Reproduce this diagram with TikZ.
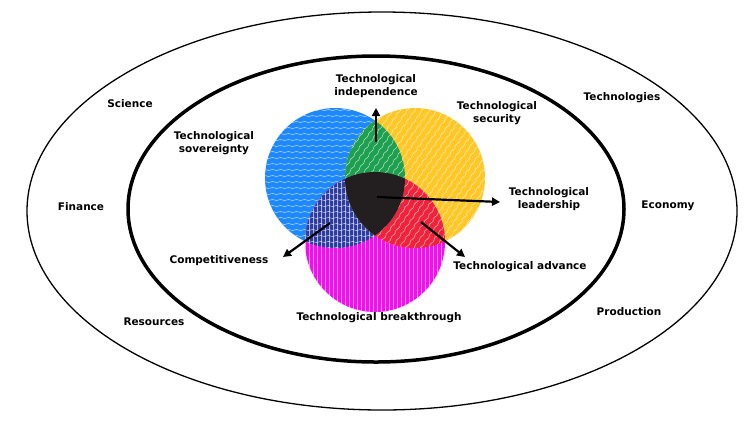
\documentclass[tikz,border=0pt]{standalone}
\usepackage{fontspec}
\setmainfont{DejaVu Sans}
\usetikzlibrary{arrows.meta,decorations.pathmorphing}
\definecolor{Bl}{RGB}{30, 136, 255}
\definecolor{Ye}{RGB}{255, 200, 40}
\definecolor{Ma}{RGB}{250, 10, 245}
\definecolor{Gr}{RGB}{30, 160, 80}
\definecolor{Db}{RGB}{45, 60, 160}
\definecolor{Re}{RGB}{240, 35, 60}
\definecolor{Bk}{RGB}{35, 31, 32}
\tikzset{
  lbl/.style={font=\bfseries\fontsize{10.5}{12.5}\selectfont, align=center, inner sep=1pt},
  wave/.style={white, opacity=0.7, line width=0.5pt, decorate,
    decoration={snake, amplitude=0.6pt, segment length=8pt}},
  hatch/.style={white, opacity=0.6, line width=0.5pt},
  arr/.style={-{Triangle[length=8pt,width=8pt]}, line width=2.2pt},
}

\begin{document}
\begin{tikzpicture}[x=1pt, y=-1pt]
   \useasboundingbox (0,0) rectangle (744,424);
   \draw[black, line width=1.3pt] (382,211) ellipse [x radius=355pt, y radius=199pt];
   \draw[black, line width=3.5pt] (376,209) ellipse [x radius=248pt, y radius=153pt];
   % base circles
   \fill[Bl] (335,178) circle [radius=70pt];
   \fill[Ye] (415,178) circle [radius=70pt];
   \fill[Ma] (375,242) circle [radius=70pt];
   \begin{scope}
   \clip (335,178) circle [radius=70pt];
   \fill[Db] (375,242) circle [radius=70pt];
   \end{scope}
   \begin{scope}
   \clip (375,242) circle [radius=70pt];
   \foreach \x in {305,309,...,445}
      \draw[hatch] (\x,170) -- (\x,314);
   \end{scope}
   \begin{scope}
   \clip (415,178) circle [radius=70pt];
   \fill[Re] (375,242) circle [radius=70pt];
   \end{scope}
   \begin{scope}
   \clip (335,178) circle [radius=70pt];
   \foreach \y in {110,116,...,248}
      \draw[wave] (262,\y) -- (410,\y);
   \end{scope}
   \begin{scope}
   \clip (335,178) circle [radius=70pt];
   \fill[Gr] (415,178) circle [radius=70pt];
   \end{scope}
   \begin{scope}
   \clip (415,178) circle [radius=70pt];
   \begin{scope}[rotate around={55:(415,178)}]
   \foreach \d in {-75,-69,...,75}
      \draw[wave] (335,{178+\d}) -- (495,{178+\d});
   \end{scope}
   \end{scope}
   \begin{scope}
   \clip (335,178) circle [radius=70pt];
   \clip (415,178) circle [radius=70pt];
   \fill[Bk] (375,242) circle [radius=70pt];
   \end{scope}
   % labels
   \node[lbl] (ind) at (376,86) {Technological\\independence};
   \node[lbl] (sec) at (497,113) {Technological\\security};
   \node[lbl] (sov) at (214,143) {Technological\\sovereignty};
   \node[lbl] (lead) at (549,199) {Technological\\leadership};
   \node[lbl] (comp) at (219,261) {Competitiveness};
   \node[lbl] (adv) at (520,267) {Technological advance};
   \node[lbl] (brk) at (379,318) {Technological breakthrough};
   \node[lbl] (sci) at (130,104) {Science};
   \node[lbl] (fin) at (81,207) {Finance};
   \node[lbl] (res) at (154,322) {Resources};
   \node[lbl] (tech) at (622,98) {Technologies};
   \node[lbl] (eco) at (668,206) {Economy};
   \node[lbl] (prod) at (629,312) {Production};
   % arrows
   \coordinate (core) at (377,197);
   \coordinate (grn) at (376,142);
   \coordinate (dbl) at (330,223);
   \coordinate (red) at (421,222);
   \coordinate (indtip) at (376,108);
   \coordinate (leadtip) at (500,202);
   \coordinate (comptip) at (283,257);
   \coordinate (advtip) at (465,257);
   \draw[arr] (grn) -- (indtip);
   \draw[arr] (core) -- (leadtip);
   \draw[arr] (dbl) -- (comptip);
   \draw[arr] (red) -- (advtip);
\end{tikzpicture}
\end{document}
